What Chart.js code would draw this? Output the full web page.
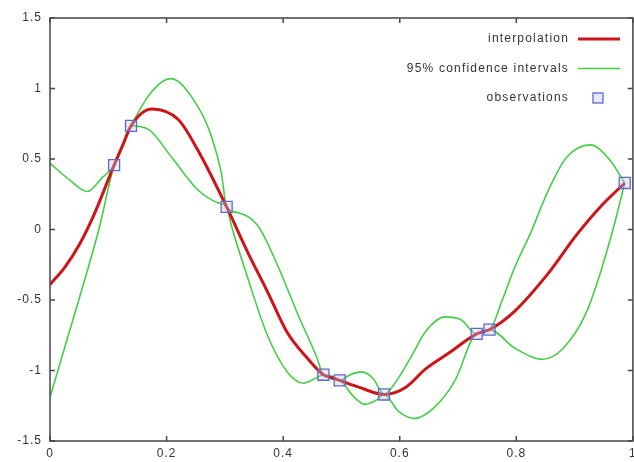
<!DOCTYPE html>
<html>
<head>
<meta charset="utf-8">
<script src="https://cdn.jsdelivr.net/npm/chart.js@4.4.0/dist/chart.umd.min.js"></script>
<style>
  html, body { margin: 0; padding: 0; overflow: hidden; background: #fff; }
  #chartBox { width: 642px; height: 462px; }
</style>
</head>
<body>
<div id="chartBox"><canvas id="gpChart" width="642" height="462"></canvas></div>
<script>
// observations
const obsX = [0.110, 0.139, 0.303, 0.469, 0.497, 0.573, 0.732, 0.754, 0.986];
const obsY = [0.457, 0.735, 0.16, -1.03, -1.07, -1.17, -0.74, -0.71, 0.33];

// interpolation (mean)
const meanX = [0, 0.025, 0.05, 0.075, 0.11, 0.125, 0.139, 0.175, 0.22, 0.254, 0.303, 0.339, 0.373, 0.407, 0.441, 0.469, 0.483, 0.497, 0.531, 0.573, 0.61, 0.644, 0.683, 0.732, 0.743, 0.754, 0.797, 0.853, 0.903, 0.944, 0.986];
const meanY = [-0.39, -0.27, -0.11, 0.1, 0.457, 0.6, 0.735, 0.855, 0.78, 0.56, 0.16, -0.16, -0.44, -0.73, -0.91, -1.03, -1.05, -1.07, -1.12, -1.17, -1.12, -0.99, -0.88, -0.74, -0.725, -0.71, -0.58, -0.32, -0.04, 0.16, 0.33];

// 95% confidence bounds
const upperX = [0, 0.034, 0.064, 0.09, 0.11, 0.125, 0.139, 0.175, 0.207, 0.254, 0.277, 0.294, 0.303, 0.322, 0.356, 0.39, 0.424, 0.458, 0.469, 0.483, 0.497, 0.515, 0.535, 0.555, 0.573, 0.595, 0.62, 0.645, 0.678, 0.705, 0.732, 0.743, 0.754, 0.775, 0.797, 0.825, 0.853, 0.886, 0.927, 0.961, 0.986];
const upperY = [0.47, 0.35, 0.27, 0.37, 0.457, 0.61, 0.735, 0.98, 1.07, 0.87, 0.66, 0.40, 0.16, 0.12, 0.03, -0.25, -0.59, -0.91, -1.03, -1.04, -1.07, -1.03, -1.01, -1.06, -1.17, -1.07, -0.90, -0.72, -0.62, -0.64, -0.74, -0.715, -0.71, -0.51, -0.27, -0.02, 0.26, 0.51, 0.60, 0.49, 0.33];

const lowerX = [0, 0.03, 0.06, 0.085, 0.11, 0.125, 0.139, 0.169, 0.209, 0.254, 0.288, 0.303, 0.311, 0.339, 0.373, 0.407, 0.435, 0.458, 0.469, 0.483, 0.497, 0.52, 0.54, 0.56, 0.573, 0.598, 0.625, 0.66, 0.695, 0.732, 0.743, 0.754, 0.797, 0.845, 0.881, 0.92, 0.944, 0.969, 0.986];
const lowerY = [-1.19, -0.77, -0.35, 0.02, 0.457, 0.59, 0.735, 0.71, 0.51, 0.28, 0.19, 0.16, 0.03, -0.34, -0.75, -1.01, -1.09, -1.05, -1.03, -1.06, -1.07, -1.18, -1.24, -1.21, -1.17, -1.29, -1.34, -1.26, -1.07, -0.74, -0.735, -0.71, -0.84, -0.92, -0.84, -0.59, -0.31, 0.05, 0.33];

const axisColor = "rgb(70, 70, 70)";
const textColor = "#333";
const fontFamily = "'Liberation Sans', Arial, sans-serif";

function toPoints(xs, ys) {
  return xs.map((x, i) => ({ x: x, y: ys[i] }));
}

// 1.0 -> "1", 0.5 -> "0.5"
function shortLabel(value) {
  return String(Number(value.toFixed(2)));
}

// border box with inward tics on all four sides
const framePlugin = {
  id: "frame",
  beforeDraw(chart) {
    chart.ctx.letterSpacing = "1px";
  },
  afterDatasetsDraw(chart) {
    const ctx = chart.ctx;
    const a = chart.chartArea;
    const sx = chart.scales.x;
    const sy = chart.scales.y;
    ctx.save();
    ctx.strokeStyle = axisColor;
    ctx.lineWidth = 1.5;
    ctx.strokeRect(a.left, a.top, a.right - a.left, a.bottom - a.top);
    ctx.beginPath();
    sx.ticks.forEach((t) => {
      const px = sx.getPixelForValue(t.value);
      ctx.moveTo(px, a.bottom);
      ctx.lineTo(px, a.bottom - 5);
      ctx.moveTo(px, a.top);
      ctx.lineTo(px, a.top + 5);
    });
    sy.ticks.forEach((t) => {
      const py = sy.getPixelForValue(t.value);
      ctx.moveTo(a.left, py);
      ctx.lineTo(a.left + 5, py);
      ctx.moveTo(a.right, py);
      ctx.lineTo(a.right - 5, py);
    });
    ctx.stroke();
    ctx.restore();
  },
};

// gnuplot style key: text on the left, sample on the right
const keyPlugin = {
  id: "key",
  afterDraw(chart) {
    const ctx = chart.ctx;
    const sets = chart.data.datasets;
    const rows = [sets[1], sets[2], sets[0]];
    ctx.save();
    ctx.font = "12px " + fontFamily;
    ctx.letterSpacing = "1.2px";
    ctx.fillStyle = textColor;
    ctx.textAlign = "right";
    ctx.textBaseline = "middle";
    rows.forEach((ds, i) => {
      const y = 39 + i * 29.5;
      ctx.fillText(ds.label, 569, y);
      if (ds.showLine) {
        ctx.strokeStyle = ds.borderColor;
        ctx.lineWidth = ds.borderWidth;
        ctx.beginPath();
        ctx.moveTo(578, y);
        ctx.lineTo(620, y);
        ctx.stroke();
      } else {
        ctx.fillStyle = ds.backgroundColor;
        ctx.fillRect(593, y - 5, 10, 10);
        ctx.strokeStyle = ds.borderColor;
        ctx.lineWidth = ds.borderWidth;
        ctx.strokeRect(593, y - 5, 10, 10);
        ctx.fillStyle = textColor;
      }
    });
    ctx.restore();
    ctx.letterSpacing = "0px";
  },
};

const ctx = document.getElementById("gpChart").getContext("2d");

const gpChart = new Chart(ctx, {
  type: "scatter",
  data: {
    datasets: [
      {
        label: "observations",
        data: toPoints(obsX, obsY),
        showLine: false,
        pointStyle: "rect",
        pointRadius: 7.8,
        borderColor: "rgb(95, 105, 200)",
        backgroundColor: "rgba(190, 195, 240, 0.35)",
        borderWidth: 1.3,
      },
      {
        label: "interpolation",
        data: toPoints(meanX, meanY),
        showLine: true,
        borderColor: "rgb(205, 20, 25)",
        borderWidth: 3,
        pointRadius: 0,
        cubicInterpolationMode: "monotone",
      },
      {
        label: "95% confidence intervals",
        data: toPoints(upperX, upperY),
        showLine: true,
        borderColor: "rgb(70, 205, 70)",
        borderWidth: 1.6,
        pointRadius: 0,
        cubicInterpolationMode: "monotone",
      },
      {
        label: "95% confidence intervals",
        data: toPoints(lowerX, lowerY),
        showLine: true,
        borderColor: "rgb(70, 205, 70)",
        borderWidth: 1.6,
        pointRadius: 0,
        cubicInterpolationMode: "monotone",
      },
    ],
  },
  options: {
    responsive: false,
    animation: false,
    layout: { padding: { top: 18, right: 5, bottom: 0, left: 0 } },
    scales: {
      x: {
        type: "linear",
        min: 0,
        max: 1,
        afterFit: (s) => { s.height = 21; },
        grid: { display: false, drawTicks: false },
        border: { display: false },
        ticks: {
          stepSize: 0.2,
          padding: 5,
          color: textColor,
          font: { family: fontFamily, size: 12 },
          callback: shortLabel,
        },
      },
      y: {
        min: -1.5,
        max: 1.5,
        afterFit: (s) => { s.width = 50; },
        grid: { display: false, drawTicks: false },
        border: { display: false },
        ticks: {
          stepSize: 0.5,
          padding: 8,
          color: textColor,
          font: { family: fontFamily, size: 12 },
          callback: shortLabel,
        },
      },
    },
    plugins: {
      legend: { display: false },
      tooltip: { enabled: false },
    },
  },
  plugins: [framePlugin, keyPlugin],
});
</script>
</body>
</html>
